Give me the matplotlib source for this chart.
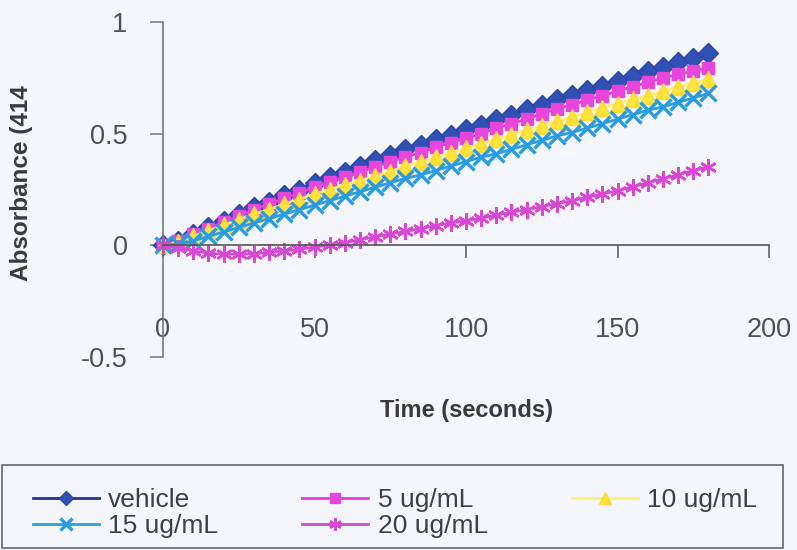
import numpy as np
import matplotlib
matplotlib.use("Agg")
import matplotlib.pyplot as plt
from matplotlib.patches import Rectangle

plt.rcParams['font.family'] = ['Liberation Sans', 'DejaVu Sans']

# time points (s)
time_s = list(range(0, 185, 5))

# absorbance readings
vehicle = [0.00, 0.02, 0.05, 0.08, 0.11, 0.14, 0.17, 0.195, 0.225, 0.25,
           0.28, 0.305, 0.33, 0.355, 0.38, 0.405, 0.43, 0.45, 0.475, 0.495,
           0.52, 0.54, 0.565, 0.585, 0.61, 0.63, 0.655, 0.675, 0.695, 0.715,
           0.735, 0.76, 0.78, 0.80, 0.82, 0.84, 0.86]
ug5 = [0.00, 0.02, 0.05, 0.075, 0.105, 0.13, 0.16, 0.185, 0.21, 0.235,
       0.26, 0.285, 0.305, 0.33, 0.35, 0.375, 0.395, 0.415, 0.44, 0.46,
       0.48, 0.50, 0.525, 0.545, 0.565, 0.59, 0.61, 0.63, 0.65, 0.67,
       0.69, 0.71, 0.73, 0.75, 0.765, 0.78, 0.795]
ug10 = [0.00, 0.015, 0.04, 0.065, 0.09, 0.115, 0.14, 0.16, 0.185, 0.205,
        0.23, 0.25, 0.27, 0.29, 0.31, 0.33, 0.355, 0.375, 0.395, 0.415,
        0.435, 0.455, 0.475, 0.495, 0.515, 0.535, 0.555, 0.575, 0.595, 0.615,
        0.635, 0.655, 0.67, 0.69, 0.71, 0.725, 0.745]
ug15 = [0.00, 0.005, 0.02, 0.04, 0.06, 0.08, 0.10, 0.12, 0.14, 0.16,
        0.18, 0.20, 0.22, 0.24, 0.26, 0.28, 0.30, 0.315, 0.335, 0.355,
        0.375, 0.395, 0.41, 0.43, 0.45, 0.47, 0.49, 0.505, 0.525, 0.545,
        0.565, 0.585, 0.605, 0.62, 0.64, 0.66, 0.68]
ug20 = [0.00, -0.01, -0.025, -0.035, -0.04, -0.04, -0.038, -0.032, -0.025, -0.017,
        -0.008, 0.002, 0.012, 0.025, 0.038, 0.05, 0.062, 0.075, 0.088, 0.10,
        0.11, 0.122, 0.135, 0.148, 0.16, 0.173, 0.187, 0.20, 0.215, 0.23,
        0.245, 0.262, 0.28, 0.298, 0.316, 0.334, 0.352]

labels = ['vehicle', '5 ug/mL', '10 ug/mL', '15 ug/mL', '20 ug/mL']
x_ticks = [0, 50, 100, 150, 200]
y_ticks = [-0.5, 0, 0.5, 1]

bg = '#f4f6fb'
fig = plt.figure(figsize=(7.97, 5.5), dpi=100, facecolor=bg)
ax = fig.add_axes([163 / 797, 1 - 357 / 550, 606 / 797, 335 / 550])
ax.set_facecolor(bg)

series = [
    (vehicle, dict(color='#24348f', marker='D', markersize=10, markerfacecolor='#3050b4',
                   markeredgecolor='#2a44a8')),
    (ug5, dict(color='#e040d8', marker='s', markersize=9, markerfacecolor='#e845dc',
               markeredgecolor='#e845dc')),
    (ug10, dict(color='#fff070', marker='^', markersize=11, markerfacecolor='#ffe23a',
                markeredgecolor='#ffd83a')),
    (ug15, dict(color='#2a9fe0', marker='x', markersize=11, markeredgewidth=2.4,
                markeredgecolor='#2a9be0')),
    (ug20, dict(color='#c850c8', marker=(6, 2, 0), markersize=12, markeredgewidth=1.8,
                markeredgecolor='#d848d4')),
]
handles = []
for vals, style in series:
    h, = ax.plot(time_s, vals, linewidth=2, clip_on=False, **style)
    handles.append(h)

ax.set_xlim(0, 200)
ax.set_ylim(-0.5, 1)
ax.set_xticks(x_ticks)
ax.set_yticks(y_ticks)
ax.set_xticklabels([str(v) for v in x_ticks])
ax.set_yticklabels(['-0.5', '0', '0.5', '1'])

for s in ['top', 'right']:
    ax.spines[s].set_visible(False)
ax.spines['bottom'].set_position(('data', 0))
ax.spines['bottom'].set_color('#555555')
ax.spines['left'].set_color('#777777')
ax.spines['bottom'].set_linewidth(1.2)
ax.spines['left'].set_linewidth(1.2)

ax.tick_params(axis='x', direction='out', length=9.5, width=1.1, color='#555555',
               pad=42, labelsize=19.5, labelcolor='#505050')
ax.tick_params(axis='y', direction='out', length=9.5, width=1.1, color='#777777',
               pad=16, labelsize=19.5, labelcolor='#505050')

fig.text(466 / 797, 1 - 410 / 550, 'Time (seconds)', ha='center', va='center',
         fontsize=17, fontweight='bold', color='#3a3a3a')
fig.text(22 / 797, 1 - 183 / 550, 'Absorbance (414', ha='center', va='center',
         rotation=90, fontsize=17.5, fontweight='bold', color='#3a3a3a')

# legend frame
fig.patches.append(Rectangle((2 / 797, 2 / 550), 781 / 797, 463 / 550 - 380 / 550,
                             transform=fig.transFigure, fill=False,
                             edgecolor='#666666', linewidth=1.2))

order = [0, 3, 1, 4, 2]
fig.legend([handles[i] for i in order], [labels[i] for i in order],
           loc='upper left', bbox_to_anchor=(33 / 797, 1 - 488 / 550 - 0.01, 724 / 797, 0.01),
           mode='expand', ncol=3, frameon=False, borderaxespad=0, borderpad=0,
           fontsize=19, handlelength=2.5, handletextpad=0.35, labelspacing=0.08,
           labelcolor='#404040', markerscale=0.75)

fig.savefig('out.png', dpi=100, facecolor=bg)
